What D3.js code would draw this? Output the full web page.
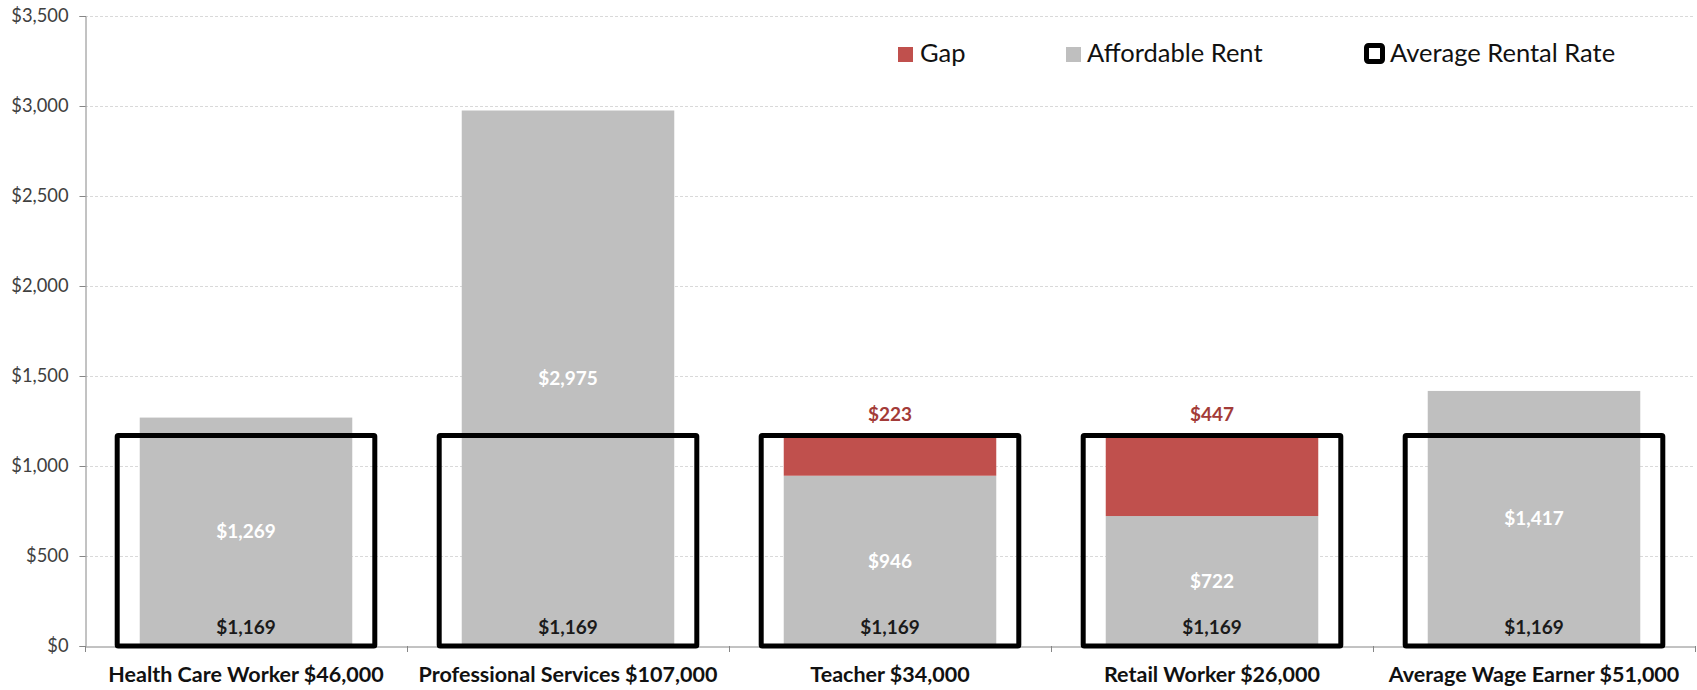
<!DOCTYPE html>
<html>
<head>
<meta charset="utf-8">
<script src="https://cdn.jsdelivr.net/npm/d3@7"></script>
<style>
  body { margin: 0; background: #fff; }
  svg { display: block; font-family: Lato, "Open Sans", sans-serif; }
</style>
</head>
<body>
<div class="chart"></div>
<script>
// Chart data
const categories = [
  "Health Care Worker $46,000",
  "Professional Services $107,000",
  "Teacher $34,000",
  "Retail Worker $26,000",
  "Average Wage Earner $51,000"
];
const affordableRent = [1269, 2975, 946, 722, 1417];
const gap = [0, 0, 223, 447, 0];
const averageRent = [1169, 1169, 1169, 1169, 1169];
const yTicks = [0, 500, 1000, 1500, 2000, 2500, 3000, 3500];

const width = 1697;
const height = 690;
const margin = { top: 16, right: 2, bottom: 44, left: 85 };

const red = "#C0504D";
const grey = "#BFBFBF";

const fmt = d3.format("$,");

const svg = d3
  .select(".chart")
  .append("svg")
  .attr("width", width)
  .attr("height", height);

const x = d3
  .scaleBand()
  .domain(categories)
  .range([margin.left, width - margin.right])
  .paddingInner(0)
  .paddingOuter(0);

const y = d3
  .scaleLinear()
  .domain([0, 3500])
  .range([height - margin.bottom, margin.top]);

const rows = categories.map((c, i) => ({
  cat: c,
  rent: affordableRent[i],
  gap: gap[i],
  avg: averageRent[i]
}));

// gridlines
svg
  .append("g")
  .selectAll("line")
  .data(yTicks.slice(1))
  .enter()
  .append("line")
  .attr("x1", margin.left)
  .attr("x2", width - margin.right)
  .attr("y1", (d) => y(d) + 0.5)
  .attr("y2", (d) => y(d) + 0.5)
  .attr("stroke", "#d9d9d9")
  .attr("stroke-dasharray", "3,2");

// y axis
const yAxis = svg
  .append("g")
  .attr("transform", `translate(${margin.left + 0.5},0)`)
  .call(d3.axisLeft(y).tickValues(yTicks).tickFormat(fmt).tickSize(6).tickPadding(11));
yAxis.select(".domain").attr("stroke", "#868686");
yAxis.selectAll(".tick line").attr("stroke", "#868686");
yAxis.selectAll("text").attr("font-size", 18.3).attr("fill", "#404040").attr("font-family", "Lato, sans-serif");

// bars: affordable rent
const barW = x.bandwidth() * 0.66;
const boxW = x.bandwidth() * 0.8;
const cx = (d) => x(d.cat) + x.bandwidth() / 2;

svg
  .append("g")
  .selectAll("rect")
  .data(rows)
  .enter()
  .append("rect")
  .attr("x", (d) => cx(d) - barW / 2)
  .attr("y", (d) => y(d.rent))
  .attr("width", barW)
  .attr("height", (d) => y(0) - y(d.rent))
  .attr("fill", grey);

// bars: gap stacked on rent
svg
  .append("g")
  .selectAll("rect")
  .data(rows.filter((d) => d.gap > 0))
  .enter()
  .append("rect")
  .attr("x", (d) => cx(d) - barW / 2)
  .attr("y", (d) => y(d.rent + d.gap))
  .attr("width", barW)
  .attr("height", (d) => y(d.rent) - y(d.rent + d.gap))
  .attr("fill", red);

// x axis
const xAxis = svg
  .append("g")
  .attr("transform", `translate(0,${y(0) + 0.5})`)
  .call(d3.axisBottom(x).tickSize(0).tickPadding(20));
xAxis.select(".domain").attr("stroke", "#868686");
xAxis
  .selectAll("text")
  .attr("font-size", 21.5)
  .attr("font-weight", "bold")
  .attr("fill", "#111")
  .attr("font-family", "Lato, sans-serif");

// boundary ticks between categories
svg
  .append("g")
  .selectAll("line")
  .data(categories.map((c) => x(c)).concat([width - margin.right]))
  .enter()
  .append("line")
  .attr("x1", (d) => Math.round(d) + 0.5)
  .attr("x2", (d) => Math.round(d) + 0.5)
  .attr("y1", y(0))
  .attr("y2", y(0) + 6)
  .attr("stroke", "#868686");

// average rental rate boxes
svg
  .append("g")
  .selectAll("rect")
  .data(rows)
  .enter()
  .append("rect")
  .attr("x", (d) => cx(d) - boxW / 2)
  .attr("y", (d) => y(d.avg))
  .attr("width", boxW)
  .attr("height", (d) => y(0) - y(d.avg))
  .attr("fill", "none")
  .attr("stroke", "#000")
  .attr("stroke-width", 5)
  .attr("rx", 1);

// labels: rent (white, centered)
svg
  .append("g")
  .selectAll("text")
  .data(rows)
  .enter()
  .append("text")
  .attr("x", cx)
  .attr("y", (d) => (y(d.rent) + y(0)) / 2)
  .attr("dy", "0.35em")
  .attr("text-anchor", "middle")
  .attr("font-size", 19)
  .attr("font-weight", "bold")
  .attr("fill", "#fff")
  .text((d) => fmt(d.rent));

// labels: average rent at base
svg
  .append("g")
  .selectAll("text")
  .data(rows)
  .enter()
  .append("text")
  .attr("x", cx)
  .attr("y", y(0) - 19)
  .attr("dy", "0.35em")
  .attr("text-anchor", "middle")
  .attr("font-size", 19)
  .attr("font-weight", "bold")
  .attr("fill", "#1a1a1a")
  .text((d) => fmt(d.avg));

// labels: gap above box
svg
  .append("g")
  .selectAll("text")
  .data(rows.filter((d) => d.gap > 0))
  .enter()
  .append("text")
  .attr("x", cx)
  .attr("y", (d) => y(d.rent + d.gap) - 21)
  .attr("dy", "0.35em")
  .attr("text-anchor", "middle")
  .attr("font-size", 19)
  .attr("font-weight", "bold")
  .attr("fill", "#A33B38")
  .text((d) => fmt(d.gap));

// legend
const legend = svg.append("g").attr("font-size", 25.5).attr("fill", "#111");

legend.append("rect").attr("x", 898).attr("y", 47).attr("width", 15).attr("height", 15).attr("fill", red);
legend.append("text").attr("x", 920).attr("y", 62).text("Gap");

legend.append("rect").attr("x", 1066).attr("y", 47).attr("width", 15).attr("height", 15).attr("fill", grey);
legend.append("text").attr("x", 1087).attr("y", 62).text("Affordable Rent");

legend
  .append("rect")
  .attr("x", 1366.5)
  .attr("y", 45.5)
  .attr("width", 16)
  .attr("height", 16)
  .attr("rx", 2)
  .attr("fill", "#fff")
  .attr("stroke", "#000")
  .attr("stroke-width", 5);
legend.append("text").attr("x", 1390).attr("y", 62).text("Average Rental Rate");
</script>
</body>
</html>
